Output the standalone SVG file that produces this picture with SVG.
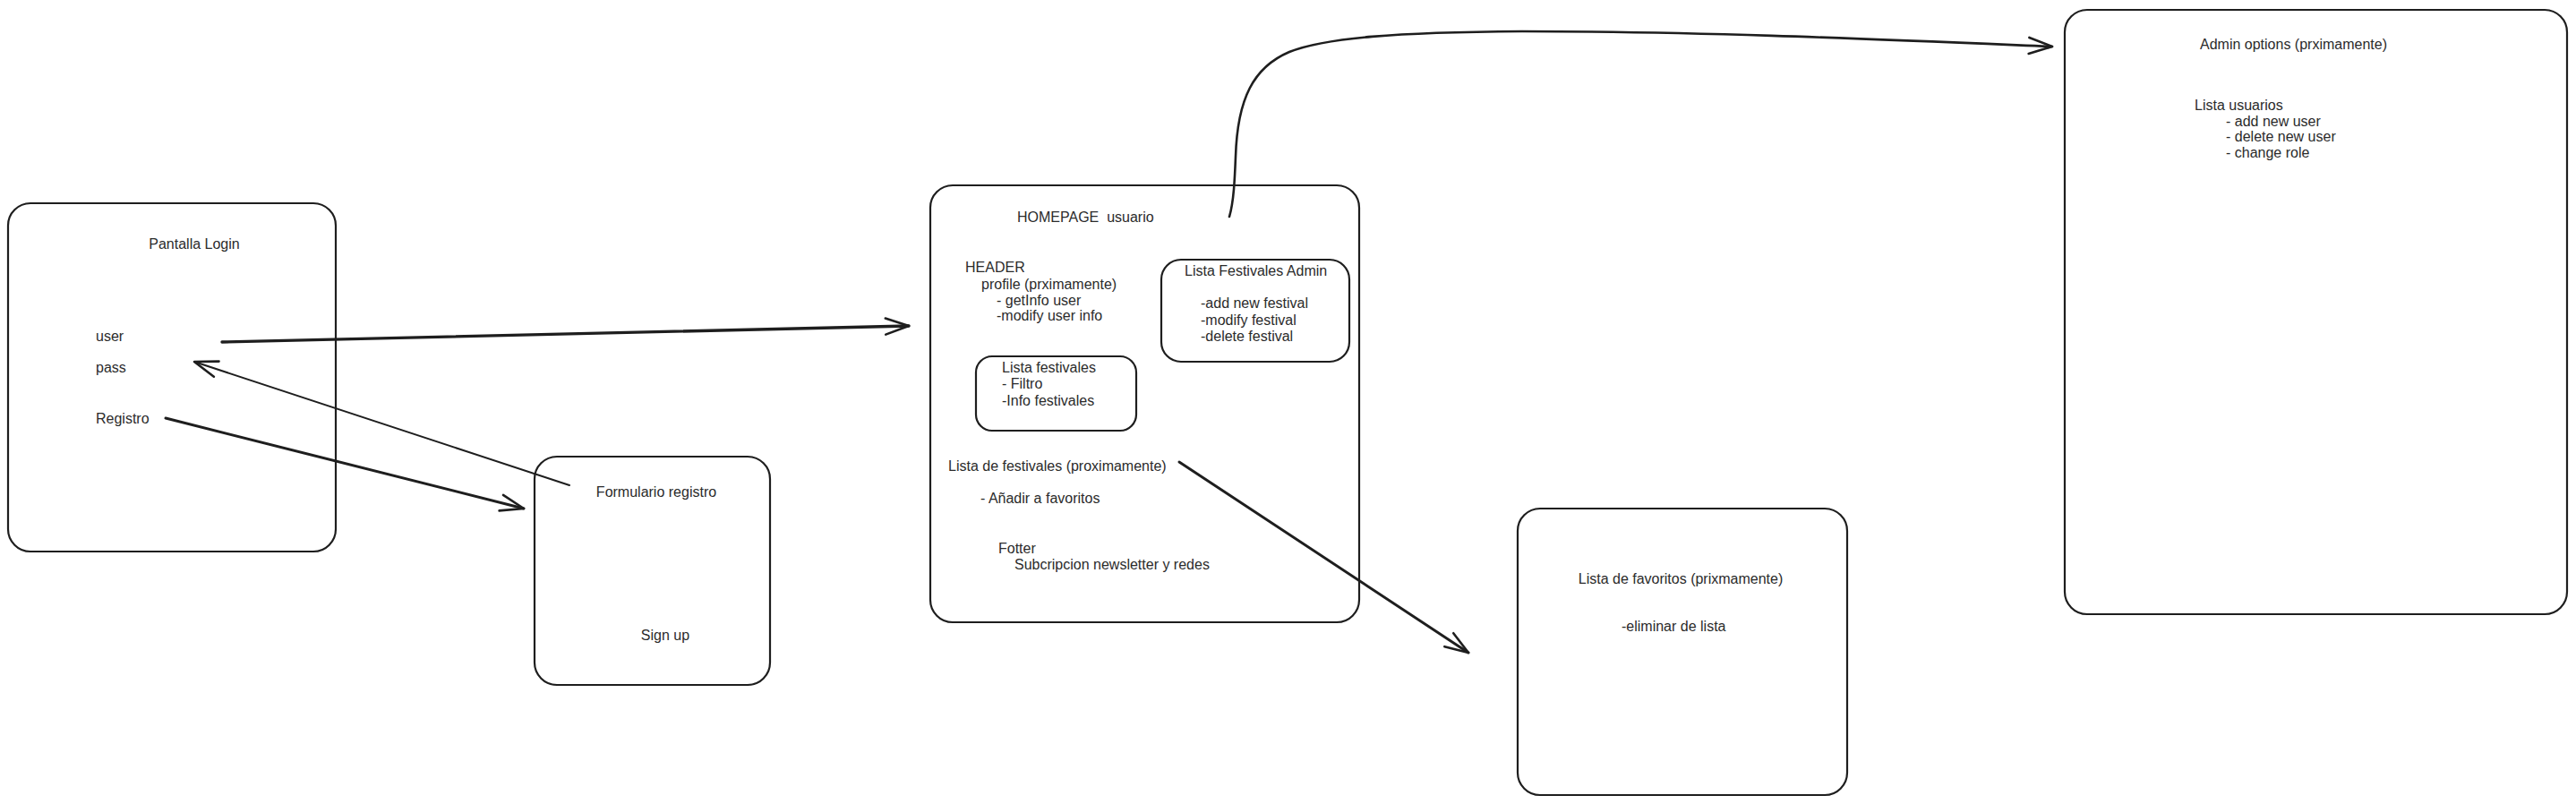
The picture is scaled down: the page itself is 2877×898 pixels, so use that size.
<svg xmlns="http://www.w3.org/2000/svg" width="2877" height="898" viewBox="0 0 2877 898">
<style>
.box{fill:none;stroke:#1e1e1e;stroke-width:2.2;stroke-linejoin:round}
.t{font-family:"Liberation Sans",Arial,sans-serif;font-size:16px;fill:#2b2b2b}
.c{text-anchor:middle}
.ln{fill:none;stroke:#1e1e1e;stroke-linecap:round;stroke-linejoin:round}
</style>
<defs>
<marker id="ah" viewBox="-32 -16 36 32" refX="0" refY="0" markerWidth="36" markerHeight="32" markerUnits="userSpaceOnUse" orient="auto">
<path d="M-26,-9 L0,0 L-26,9" fill="none" stroke="#1e1e1e" stroke-width="2.6" stroke-linecap="round" stroke-linejoin="round"/>
</marker>
</defs>
<rect width="2877" height="898" fill="#ffffff"/>

<g id="login">
<rect class="box" x="9" y="227" width="366" height="389" rx="25"/>
<text class="t c" x="217" y="278">Pantalla Login</text>
<text class="t" x="107" y="381">user</text>
<text class="t" x="107" y="416">pass</text>
<text class="t" x="107" y="473">Registro</text>
</g>

<g id="formulario">
<rect class="box" x="597" y="510" width="263" height="255" rx="25"/>
<text class="t c" x="733" y="555">Formulario registro</text>
<text class="t c" x="743" y="715">Sign up</text>
</g>

<g id="homepage">
<rect class="box" x="1039" y="207" width="479" height="488" rx="25"/>
<text class="t" x="1136" y="248" xml:space="preserve">HOMEPAGE  usuario</text>
<text class="t" x="1078" y="304">HEADER</text>
<text class="t" x="1096" y="323">profile (prximamente)</text>
<text class="t" x="1113" y="341">- getInfo user</text>
<text class="t" x="1113" y="358">-modify user info</text>
<text class="t" x="1059" y="526">Lista de festivales (proximamente)</text>
<text class="t" x="1095" y="562">- Añadir a favoritos</text>
<text class="t" x="1115" y="618">Fotter</text>
<text class="t" x="1133" y="636">Subcripcion newsletter y redes</text>
</g>

<g id="lista-festivales-admin">
<rect class="box" x="1297" y="290" width="210" height="114" rx="22"/>
<text class="t" x="1323" y="308">Lista Festivales Admin</text>
<text class="t" x="1341" y="344">-add new festival</text>
<text class="t" x="1341" y="363">-modify festival</text>
<text class="t" x="1341" y="381">-delete festival</text>
</g>

<g id="lista-festivales">
<rect class="box" x="1090" y="398" width="179" height="83" rx="18"/>
<text class="t" x="1119" y="416">Lista festivales</text>
<text class="t" x="1119" y="434">- Filtro</text>
<text class="t" x="1119" y="453">-Info festivales</text>
</g>

<g id="favoritos">
<rect class="box" x="1695" y="568" width="368" height="320" rx="25"/>
<text class="t c" x="1877" y="652">Lista de favoritos (prixmamente)</text>
<text class="t" x="1811" y="705">-eliminar de lista</text>
</g>

<g id="admin">
<rect class="box" x="2306" y="11" width="561" height="675" rx="25"/>
<text class="t" x="2457" y="55">Admin options (prximamente)</text>
<text class="t" x="2451" y="123">Lista usuarios</text>
<text class="t" x="2486" y="141">- add new user</text>
<text class="t" x="2486" y="158">- delete new user</text>
<text class="t" x="2486" y="176">- change role</text>
</g>

<g id="connectors">
<path class="ln" d="M248,382 L1015,364" stroke-width="3.4" marker-end="url(#ah)"/>
<path class="ln" d="M636,542 L217,404" stroke-width="2" marker-end="url(#ah)"/>
<path class="ln" d="M185,467 L585,568" stroke-width="3" marker-end="url(#ah)"/>
<path class="ln" d="M1317,516 L1640,729" stroke-width="3" marker-end="url(#ah)"/>
<path class="ln" d="M1373,242 C1378,225 1379,200 1380,175 C1382,110 1400,75 1440,58 C1480,42 1560,36 1700,35 C1900,35 2100,44 2292,52" stroke-width="2.6" marker-end="url(#ah)"/>
</g>
</svg>
